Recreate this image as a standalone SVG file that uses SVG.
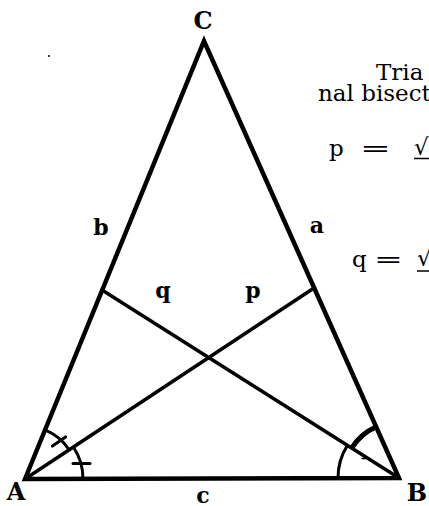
<svg xmlns="http://www.w3.org/2000/svg" width="429" height="506" viewBox="0 0 429 506">
<style>
.ln{stroke:#000;fill:none;stroke-linecap:round}
.side{stroke-width:4.5;stroke-linejoin:miter}
.bis{stroke-width:3.5}
.arc{stroke-width:3;stroke-linecap:butt}
.arcb{stroke-width:5;stroke-linecap:butt}
.tick{stroke-width:3}
.lbl{font-family:"DejaVu Serif","Liberation Serif",serif;font-weight:bold;fill:#000;text-anchor:middle}
.cap{font-size:24px}
.low{font-size:22px}
.txt{font-family:"DejaVu Serif","Liberation Serif",serif;font-size:23px;fill:#000}
</style>
<rect width="429" height="506" fill="#fff"/>
<g id="triangle">
<path class="ln side" d="M25,479 L204,41 L399,478 Z"/>
</g>
<g id="bisectors">
<line class="ln bis" x1="25" y1="479" x2="314" y2="288"/>
<line class="ln bis" x1="399" y1="478" x2="102" y2="290"/>
</g>
<g id="angle-A">
<path class="ln arc" d="M44.9,429.9 A53,53 0 0 1 69.2,449.8"/>
<path class="ln arc" d="M73.4,447 A58,58 0 0 1 83,479"/>
<line class="ln tick" x1="52.4" y1="446.1" x2="65.6" y2="436.9"/>
<line class="ln tick" x1="73" y1="463.5" x2="90" y2="463.5"/>
</g>
<g id="angle-B">
<path class="ln arc" d="M338,478 A61,61 0 0 1 347.4,445.4"/>
<path class="ln arcb" d="M351.7,448.1 A56,56 0 0 1 376.3,426.8"/>
<line class="ln" stroke-width="1.5" x1="362" y1="458.5" x2="366" y2="458.5"/>
</g>
<g id="labels">
<text class="lbl cap" x="203" y="29">C</text>
<text class="lbl cap" x="16" y="500">A</text>
<text class="lbl cap" x="417" y="501">B</text>
<text class="lbl low" x="203" y="503">c</text>
<text class="lbl low" x="101" y="235">b</text>
<text class="lbl low" x="317" y="233">a</text>
<text class="lbl low" x="163" y="298">q</text>
<text class="lbl low" x="253" y="298">p</text>
</g>
<g id="formula">
<text class="txt" x="376" y="80">Tria</text>
<text class="txt" x="318" y="101">nal bisect</text>
<text class="txt" x="329" y="156">p</text>
<text class="txt" transform="translate(360,156) scale(1.6,1)">=</text>
<text class="txt" x="414" y="155">√</text>
<line x1="414" y1="158.5" x2="429" y2="158.5" stroke="#000" stroke-width="1.5"/>
<text class="txt" x="352" y="267">q</text>
<text class="txt" transform="translate(374,267) scale(1.5,1)">=</text>
<text class="txt" x="417" y="266">√</text>
<line x1="417" y1="271" x2="429" y2="271" stroke="#000" stroke-width="1.5"/>
</g>
<circle cx="49" cy="56" r="1" fill="#000"/>
</svg>
